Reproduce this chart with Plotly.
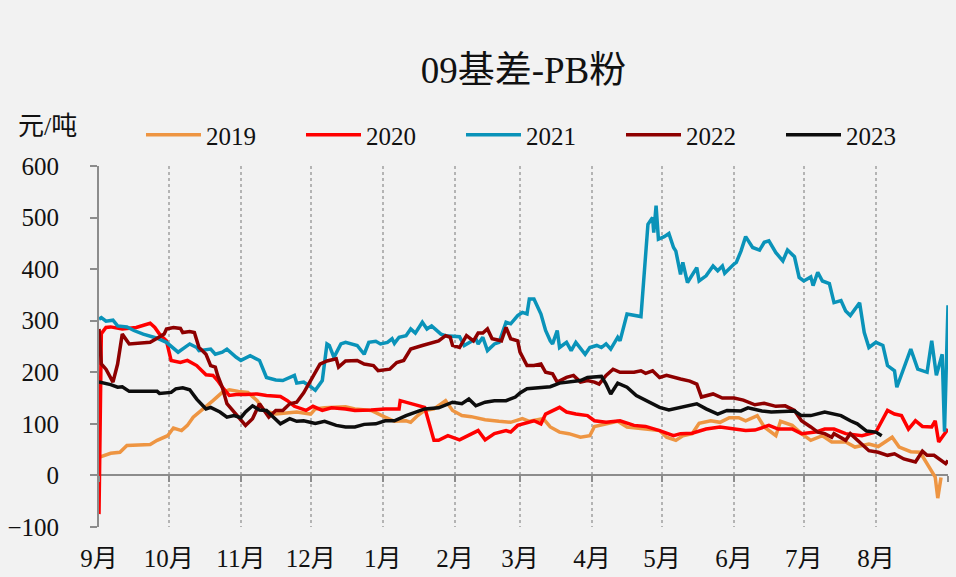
import plotly.graph_objects as go

# Month axis: days counted from 1 September
months = ["9月", "10月", "11月", "12月", "1月", "2月", "3月", "4月", "5月", "6月", "7月", "8月"]
month_days = [30, 31, 30, 31, 31, 28, 31, 30, 31, 30, 31, 31]
month_start = [0]
for n in month_days:
    month_start.append(month_start[-1] + n)

years = ["2019", "2020", "2021", "2022", "2023"]
colors = ["#EE9542", "#FF0000", "#0A93B9", "#8E0000", "#0D0D0D"]

# (day since 1 Sep, basis in 元/吨)
basis_2019 = [
    (0, 35), (5, 43), (9, 45), (12, 58), (22, 60), (25, 68), (29.5, 77), (32, 92), (35.5, 87), (38, 97),
    (40.5, 113), (45, 129), (49, 145), (53, 161), (56, 166), (60, 163), (64, 161), (68, 145), (71, 126), (76, 119),
    (85, 123), (91, 119), (93, 129), (97, 131), (106, 133), (110, 129), (117, 126), (123, 113), (127, 105), (132, 106),
    (134, 103), (137, 116), (140, 126), (144, 129), (149, 145), (152, 126), (156, 116), (160, 114), (166, 108), (172, 105),
    (177, 103), (182, 110), (185, 105), (191, 110), (194, 94), (198, 84), (202, 81), (207, 74), (211, 77), (213, 95),
    (218, 100), (223, 105), (227, 94), (235, 90), (241, 87), (244, 74), (248, 68), (251, 77), (255, 81), (258, 101),
    (263, 106), (267, 103), (271, 112), (275, 112), (278, 106), (283, 116), (286, 94), (291, 77), (293, 105), (298, 97),
    (302, 81), (306, 68), (311, 77), (315, 65), (321, 65), (325, 55), (331, 61), (335, 56), (341, 74), (344, 55),
    (349, 46), (353, 45), (357, 14), (359.5, -3), (360.6, -44), (362, -4),
]
basis_2020 = [
    (0, -75), (1, 275), (3, 287), (5, 288), (10, 284), (16, 287), (22, 295), (24, 287), (26, 274), (29, 261),
    (31, 223), (35, 219), (38, 223), (42, 213), (46, 195), (49, 194), (51, 184), (53, 171), (56, 155), (59, 157),
    (63, 157), (68, 158), (72, 155), (78, 153), (81, 145), (84, 134), (89, 126), (92, 134), (96, 126), (100, 131),
    (106, 129), (110, 126), (117, 127), (123, 129), (129, 129), (129.5, 145), (140, 132), (142, 97), (144, 68), (146, 68),
    (150, 77), (155, 69), (160, 81), (163, 87), (166, 69), (170, 81), (175, 87), (177, 84), (180, 97), (182, 100),
    (187, 106), (190, 100), (192, 119), (198, 132), (201, 123), (205, 119), (210, 116), (213, 106), (218, 103), (224, 106),
    (230, 97), (235, 95), (241, 87), (247, 77), (250, 81), (255, 82), (261, 90), (267, 94), (273, 90), (278, 87),
    (282, 88), (288, 97), (292, 90), (298, 90), (302, 81), (308, 84), (312, 90), (316, 90), (321, 81), (328, 77),
    (334, 84), (336.5, 106), (339, 126), (342, 119), (345, 116), (348, 90), (351, 106), (354, 95), (358, 94), (359.5, 106),
    (361, 65), (362, 71), (365, 90),
]
basis_2021 = [
    (0, 303), (1, 306), (3, 299), (6, 301), (8, 290), (12, 288), (15, 281), (19, 274), (25, 266), (29, 258),
    (34, 239), (37, 248), (39, 255), (42, 248), (43, 242), (48, 245), (50, 235), (53, 239), (55, 245), (59, 229),
    (61, 223), (65, 232), (69, 223), (72, 190), (76, 185), (79, 184), (82, 190), (84, 194), (85, 179), (88, 181),
    (91, 172), (93, 165), (96, 184), (98, 255), (99, 252), (101, 229), (104, 255), (106, 258), (111, 252), (114, 235),
    (116, 258), (119, 260), (121, 255), (124, 258), (126, 265), (127, 256), (129, 268), (132, 271), (134, 284), (136, 276),
    (139, 297), (141, 284), (143, 290), (147, 274), (149, 271), (155, 269), (157, 252), (159, 258), (162, 265), (163, 255),
    (165, 268), (167, 242), (170, 255), (172, 258), (175, 297), (177, 294), (180, 310), (182, 316), (184, 313), (185, 342),
    (187, 342), (190, 313), (192, 281), (194, 261), (195, 255), (197, 281), (198, 248), (201, 258), (203, 242), (205, 258),
    (209, 235), (211, 248), (214, 252), (216, 248), (218, 255), (220, 245), (223, 268), (224, 261), (227, 313), (233, 308),
    (236, 487), (238, 500), (238.5, 471), (239.5, 523), (240.5, 458), (243, 463), (245, 469), (247, 442), (248, 435), (250, 390),
    (251, 413), (253, 374), (255, 390), (257, 403), (258, 377), (261, 387), (264, 406), (266, 397), (268, 406), (269, 392),
    (273, 410), (274, 413), (276, 435), (278, 463), (281, 442), (284, 437), (286, 452), (288, 455), (291, 432), (294, 416),
    (296, 437), (299, 424), (301, 384), (303, 377), (306, 385), (307, 368), (309, 394), (311, 377), (314, 372), (316, 335),
    (319, 339), (321, 319), (323, 310), (327, 335), (329, 277), (331, 248), (334, 258), (337, 252), (339, 213), (342, 203),
    (343, 171), (344, 184), (349, 245), (352, 206), (356, 200), (358, 261), (360, 194), (362.5, 235), (363.5, 85), (365, 330),
]
basis_2022 = [
    (0, 284), (1, 216), (3, 206), (6, 181), (8, 216), (10, 274), (13, 255), (18, 256), (22, 258), (25, 266),
    (28, 274), (29, 284), (32, 287), (35, 285), (36, 277), (39, 279), (41, 277), (43, 248), (46, 235), (48, 213),
    (50, 210), (51, 194), (53, 171), (55, 139), (59, 119), (63, 97), (66, 110), (68, 132), (69, 139), (71, 126),
    (73, 113), (76, 126), (79, 126), (82, 139), (85, 142), (88, 160), (91, 184), (95, 216), (98, 222), (102, 226),
    (103, 210), (106, 222), (111, 223), (114, 216), (118, 213), (120, 203), (125, 206), (128, 219), (131, 223), (134, 245),
    (139, 252), (146, 261), (149, 271), (151, 268), (152, 252), (155, 248), (158, 271), (161, 261), (163, 276), (165, 276),
    (167, 284), (169, 265), (173, 261), (175, 287), (177, 265), (180, 261), (181, 239), (184, 213), (187, 213), (190, 216),
    (192, 200), (195, 197), (197, 181), (201, 190), (204, 194), (207, 181), (210, 184), (213, 181), (215, 177), (218, 194),
    (221, 206), (224, 200), (230, 200), (233, 203), (235, 198), (238, 203), (241, 190), (244, 194), (250, 187), (254, 183),
    (257, 177), (259, 152), (264, 158), (268, 150), (273, 150), (277, 146), (282, 137), (286, 140), (291, 134), (295, 135),
    (299, 126), (302, 106), (306, 94), (309, 84), (312, 81), (315, 74), (316, 81), (321, 68), (323, 81), (326, 68),
    (331, 48), (335, 45), (339, 39), (342, 42), (346, 32), (351, 26), (354, 47), (356, 39), (359, 39), (364, 23),
    (365, 29),
]
basis_2023 = [
    (0, 181), (5, 176), (8, 171), (10, 172), (13, 163), (18, 163), (25, 163), (26, 159), (31, 161), (33, 168),
    (36, 170), (39, 166), (42, 148), (46, 129), (48, 132), (52, 123), (55, 113), (58, 116), (61, 112), (63, 123),
    (66, 135), (69, 127), (72, 126), (75, 113), (78, 100), (82, 110), (85, 105), (88, 106), (91, 103), (93, 101),
    (97, 105), (102, 97), (106, 94), (110, 94), (114, 99), (119, 100), (123, 106), (127, 106), (132, 116), (136, 123),
    (140, 129), (146, 131), (152, 142), (156, 139), (159, 148), (162, 135), (166, 142), (170, 145), (175, 145), (179, 152),
    (181, 160), (184, 168), (190, 171), (194, 172), (198, 179), (202, 181), (207, 184), (210, 190), (216, 192), (218, 177),
    (220, 158), (223, 179), (227, 171), (231, 155), (234, 148), (237, 142), (241, 132), (245, 127), (250, 132), (253, 134),
    (257, 139), (261, 129), (266, 119), (270, 126), (276, 125), (279, 131), (285, 125), (289, 123), (295, 125), (299, 125),
    (302, 116), (306, 116), (312, 123), (316, 119), (319, 116), (323, 106), (326, 100), (330, 86), (334, 84), (336.5, 77),
]

series = [basis_2019, basis_2020, basis_2021, basis_2022, basis_2023]

LATIN_CJK = "'Liberation Serif', 'Times New Roman', 'Noto Sans CJK SC', serif"
AXIS_GREY = "#8c8c8c"
CLEAR = "rgba(0,0,0,0)"

fig = go.Figure()
for i, (name, color, pts) in enumerate(zip(years, colors, series)):
    days = [p[0] for p in pts]
    vals = [p[1] for p in pts]
    last = i == len(series) - 1
    # the newest season sits on the overlay axes (same scales, drawn on top),
    # which carry the zero-line ticks and the value labels
    fig.add_trace(go.Scatter(
        x=days, y=vals, name=name, mode="lines",
        line=dict(color=color, width=3.5),
        xaxis="x2" if last else "x", yaxis="y2" if last else "y",
    ))

fig.update_layout(
    width=956, height=577,
    margin=dict(l=99, r=8, t=166, b=50, autoexpand=False),
    paper_bgcolor="#f2f2f2", plot_bgcolor="#f2f2f2",
    font=dict(family=LATIN_CJK, size=25, color="#111111"),
    title=dict(
        text="09基差-PB粉", x=0.5, xref="paper", xanchor="center",
        y=1 - 70 / 577, yref="container", yanchor="middle",
        font=dict(size=37, color="#111111"),
    ),
    legend=dict(
        orientation="h", xref="container", yref="container",
        x=141 / 956, y=1 - 135 / 577, xanchor="left", yanchor="middle",
        itemwidth=55, entrywidth=90, entrywidthmode="pixels",
        font=dict(size=25), bgcolor=CLEAR, traceorder="normal",
    ),
    # month labels sit below the frame; clear ticks push them down
    xaxis=dict(
        range=[0, 365], tickvals=month_start, ticktext=months + [""],
        showgrid=True, gridcolor="#b4b4b4", griddash="dot", gridwidth=1.5,
        zeroline=False, showline=False,
        ticks="outside", ticklen=9, tickcolor=CLEAR,
    ),
    # short grey ticks hanging from the zero line
    xaxis2=dict(
        overlaying="x", anchor="free", position=100 / 700, matches="x",
        range=[0, 365], tickvals=month_start, showticklabels=False,
        ticks="outside", ticklen=6, tickwidth=2, tickcolor=AXIS_GREY,
        showgrid=False, zeroline=False, showline=False,
    ),
    yaxis=dict(
        range=[-100, 600], tick0=0, dtick=100,
        showgrid=False, zeroline=True, zerolinecolor=AXIS_GREY, zerolinewidth=2,
        showline=True, linecolor=AXIS_GREY, linewidth=2,
        ticks="outside", ticklen=7, tickwidth=2, tickcolor=AXIS_GREY,
        showticklabels=False,
    ),
    # value labels, set further out from the axis line
    yaxis2=dict(
        overlaying="y", anchor="x2", side="left", matches="y",
        range=[-100, 600], tick0=0, dtick=100,
        showgrid=False, zeroline=False, showline=False,
        ticks="outside", ticklen=34, tickcolor=CLEAR,
    ),
    annotations=[dict(
        text="元/吨", xref="paper", yref="paper",
        x=(16 - 99) / 849, y=(527 - 127) / 361,
        xanchor="left", yanchor="middle", showarrow=False,
        font=dict(size=26, color="#111111"),
    )],
)

fig.write_html("out.html")
